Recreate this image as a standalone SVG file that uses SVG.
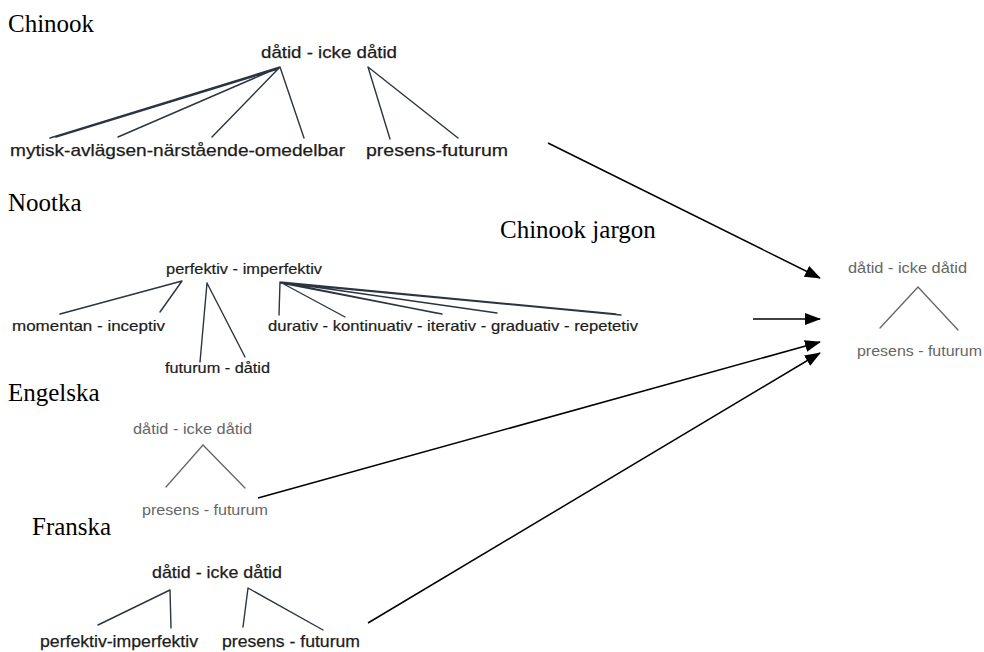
<svg xmlns="http://www.w3.org/2000/svg" width="984" height="652" viewBox="0 0 984 652">
  <style>
    .title { font-family: "Liberation Serif", "Times New Roman", serif; font-size: 25px; fill: #000; }
    .lbl { font-family: "Liberation Sans", Arial, sans-serif; font-size: 17px; fill: #1c1c1c; stroke: #1c1c1c; stroke-width: 0.25; }
    .lbl-s { font-family: "Liberation Sans", Arial, sans-serif; font-size: 14.5px; fill: #1c1c1c; stroke: #1c1c1c; stroke-width: 0.2; }
    .lbl-g { font-family: "Liberation Sans", Arial, sans-serif; font-size: 15px; fill: #666; }
    .branch { stroke: #2b3440; stroke-width: 1.4; fill: none; stroke-linecap: round; }
    .branch-g { stroke: #666; stroke-width: 1.3; fill: none; stroke-linecap: round; }
    .arrow { stroke: #000; stroke-width: 1.5; fill: none; marker-end: url(#head); }
  </style>
  <defs>
    <marker id="head" viewBox="0 0 16 12" refX="15" refY="6" markerWidth="16" markerHeight="12" markerUnits="userSpaceOnUse" orient="auto">
      <path d="M0,0 L16,6 L0,12 Z" fill="#000"/>
    </marker>
  </defs>
  <rect width="984" height="652" fill="#fff"/>

  <!-- Chinook -->
  <g id="chinook">
    <text class="title" x="8" y="32">Chinook</text>
    <text class="lbl" x="261" y="58" textLength="136" lengthAdjust="spacingAndGlyphs">dåtid - icke dåtid</text>
    <path class="branch" d="M280,67 L50,138 M278,69 L56,137 M280,67 L118,137 M280,67 L212,137 M280,67 L304,138 M368,67 L390,139 M368,67 L458,138"/>
    <text class="lbl" x="10" y="156" textLength="335" lengthAdjust="spacingAndGlyphs">mytisk-avlägsen-närstående-omedelbar</text>
    <text class="lbl" x="366" y="156" textLength="142" lengthAdjust="spacingAndGlyphs">presens-futurum</text>
  </g>

  <!-- Nootka -->
  <g id="nootka">
    <text class="title" x="8" y="211">Nootka</text>
    <text class="lbl-s" x="166" y="274" textLength="156" lengthAdjust="spacingAndGlyphs">perfektiv - imperfektiv</text>
    <path class="branch" d="M182,281 L60,314 M182,281 L160,312 M207,283 L200,362 M207,283 L245,357 M280,282 L279,315 M280,282 L345,317 M280,282 L436,313 M281,283 L442,314 M280,282 L497,313 M280,282 L616,314 M282,283 L621,315"/>
    <text class="lbl-s" x="12" y="331" textLength="153" lengthAdjust="spacingAndGlyphs">momentan - inceptiv</text>
    <text class="lbl-s" x="268" y="331" textLength="370" lengthAdjust="spacingAndGlyphs">durativ - kontinuativ - iterativ - graduativ - repetetiv</text>
    <text class="lbl-s" x="165" y="373" textLength="105" lengthAdjust="spacingAndGlyphs">futurum - dåtid</text>
  </g>

  <!-- Chinook jargon -->
  <g id="chinook-jargon">
    <text class="title" x="500" y="238">Chinook jargon</text>
    <text class="lbl-g" x="848" y="273" textLength="119" lengthAdjust="spacingAndGlyphs">dåtid - icke dåtid</text>
    <path class="branch-g" d="M918,287 L880,328 M918,287 L958,330"/>
    <text class="lbl-g" x="857" y="356" textLength="125" lengthAdjust="spacingAndGlyphs">presens - futurum</text>
  </g>

  <!-- Engelska -->
  <g id="engelska">
    <text class="title" x="8" y="401">Engelska</text>
    <text class="lbl-g" x="133" y="434" textLength="119" lengthAdjust="spacingAndGlyphs">dåtid - icke dåtid</text>
    <path class="branch-g" d="M203,445 L166,487 M203,445 L245,488"/>
    <text class="lbl-g" x="142" y="515" textLength="126" lengthAdjust="spacingAndGlyphs">presens - futurum</text>
  </g>

  <!-- Franska -->
  <g id="franska">
    <text class="title" x="32" y="535">Franska</text>
    <text class="lbl" x="152" y="578" textLength="130" lengthAdjust="spacingAndGlyphs">dåtid - icke dåtid</text>
    <path class="branch" d="M170,590 L98,625 M170,590 L171,628 M248,588 L243,627 M248,588 L323,630"/>
    <text class="lbl" x="40" y="647" textLength="158" lengthAdjust="spacingAndGlyphs">perfektiv-imperfektiv</text>
    <text class="lbl" x="222" y="647" textLength="138" lengthAdjust="spacingAndGlyphs">presens - futurum</text>
  </g>

  <!-- connectors into Chinook jargon -->
  <g id="connectors">
    <line class="arrow" x1="548" y1="143" x2="820" y2="278"/>
    <line class="arrow" x1="753" y1="319" x2="820" y2="319"/>
    <line class="arrow" x1="258" y1="498" x2="820" y2="342"/>
    <line class="arrow" x1="368" y1="623" x2="820" y2="353"/>
  </g>
</svg>
